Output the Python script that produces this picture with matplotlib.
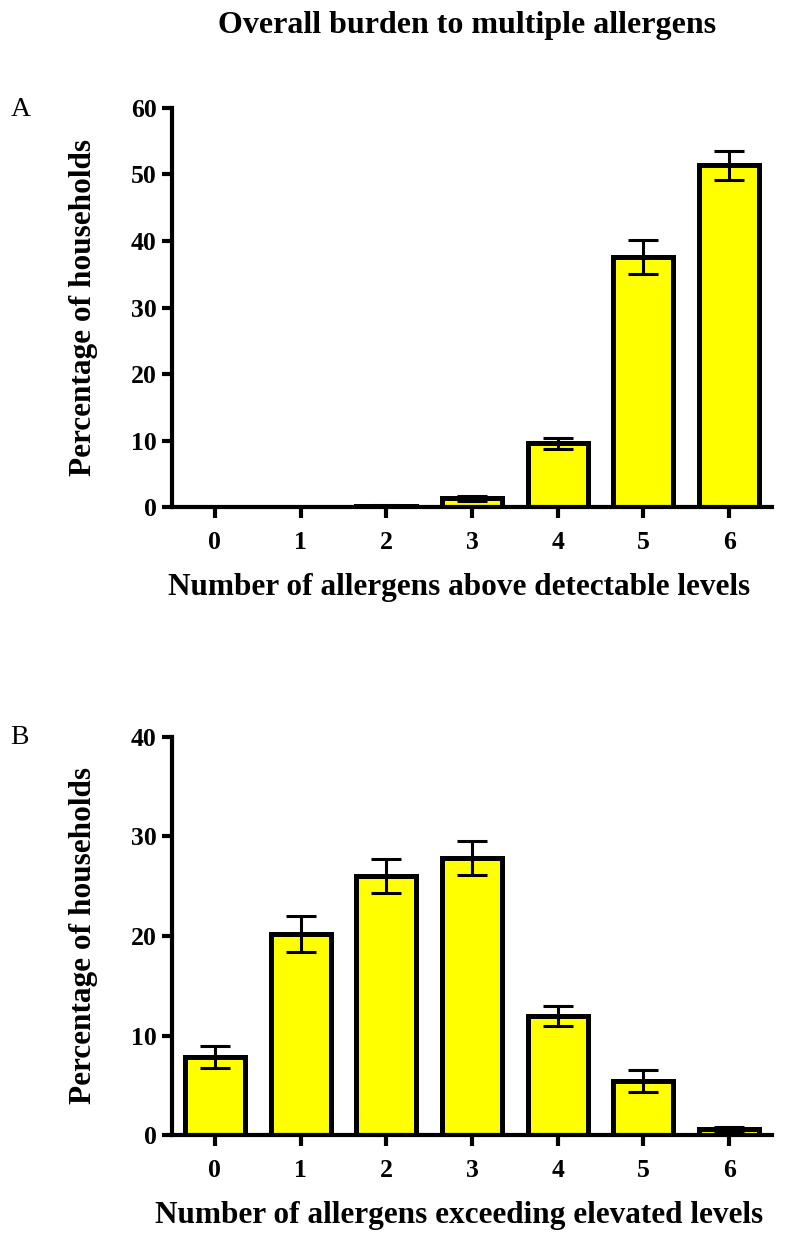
import matplotlib.pyplot as plt
import numpy as np

plt.rcParams['font.family'] = 'Liberation Serif'
plt.rcParams['font.weight'] = 'bold'

counts = [0, 1, 2, 3, 4, 5, 6]
# panel A: number of allergens above detectable levels
pct_a = [0.0, 0.0, 0.2, 1.3, 9.6, 37.6, 51.4]
err_a = [0.0, 0.0, 0.1, 0.4, 0.8, 2.5, 2.2]
# panel B: number of allergens exceeding elevated levels
pct_b = [7.8, 20.2, 26.0, 27.8, 12.0, 5.4, 0.6]
err_b = [1.1, 1.8, 1.7, 1.7, 1.0, 1.1, 0.2]

fig = plt.figure(figsize=(7.88, 12.34), dpi=100)

def panel(rect, vals, errs, ymax, xlabel):
    ax = fig.add_axes(rect)
    ax.bar(counts, vals, width=0.7, color='#ffff00', edgecolor='black',
           linewidth=3.6, zorder=2)
    ax.errorbar(counts, vals, yerr=errs, fmt='none', ecolor='black',
                elinewidth=2.2, capsize=11, capthick=2.2, zorder=3)
    ax.set_xlim(-0.5, 6.5)
    ax.set_ylim(0, ymax)
    ax.set_xticks(counts)
    ax.set_yticks(np.arange(0, ymax + 1, 10))
    for s in ['top', 'right']:
        ax.spines[s].set_visible(False)
    for s in ['left', 'bottom']:
        ax.spines[s].set_linewidth(3)
    ax.spines['left'].set_zorder(4)
    ax.tick_params(axis='both', width=3, labelsize=18.5)
    ax.tick_params(axis='x', length=8, pad=9)
    ax.tick_params(axis='y', length=7, pad=4)
    ax.set_xlabel(xlabel, fontsize=22.5, fontweight='bold', labelpad=14)
    ax.set_ylabel('Percentage of households', fontsize=22.5, fontweight='bold',
                  labelpad=24)
    ax.xaxis.label.set_x(0.478)
    return ax

panel([0.2183, 0.5891, 0.7614, 0.3234], pct_a, err_a, 60,
      'Number of allergens above detectable levels')
panel([0.2183, 0.0802, 0.7614, 0.3226], pct_b, err_b, 40,
      'Number of allergens exceeding elevated levels')

fig.text(0.593, 0.979, 'Overall burden to multiple allergens', ha='center',
         va='center', fontsize=23, fontweight='bold')
fig.text(0.013, 0.911, 'A', fontsize=20, fontweight='normal', va='center')
fig.text(0.013, 0.402, 'B', fontsize=20, fontweight='normal', va='center')

fig.savefig('out.png', dpi=100)
